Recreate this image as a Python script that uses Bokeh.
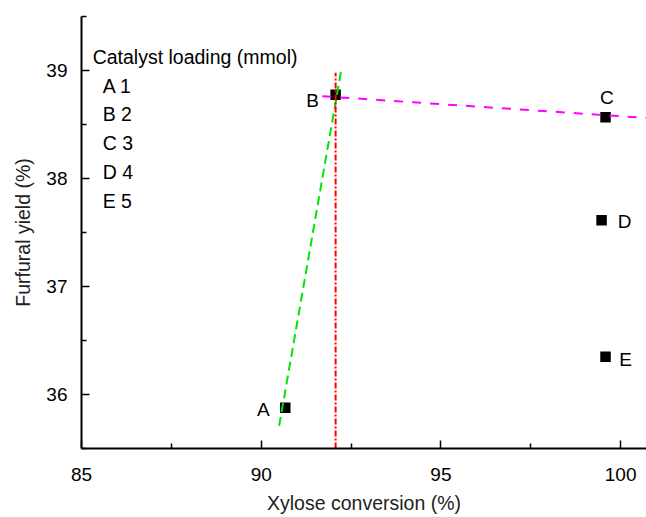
from bokeh.plotting import figure
from bokeh.models import FixedTicker, ColumnDataSource, Range1d
from bokeh.core.properties import value
from bokeh.embed import file_html
from bokeh.resources import INLINE

# ---- data ----
labels = ["A", "B", "C", "D", "E"]
loading = [1, 2, 3, 4, 5]
conversion = [90.67, 92.07, 99.58, 99.47, 99.58]
yield_ = [35.877, 38.775, 38.568, 37.613, 36.35]

green_x = [90.50, 92.24]
green_y = [35.71, 39.03]
magenta_x = [91.70, 100.75]
magenta_y = [38.762, 38.56]
red_x = [92.07, 92.07]
red_y = [35.5, 38.98]

x_ticks = [85, 90, 95, 100]
x_minor = [87.5, 92.5, 97.5]
y_ticks = [36, 37, 38, 39]
y_minor = [35.5, 36.5, 37.5, 38.5, 39.5]

legend_title = "Catalyst loading (mmol)"

FONT = "Liberation Sans"

p = figure(width=646, height=517,
           x_range=Range1d(85, 100.72), y_range=Range1d(35.5, 39.5),
           output_backend="svg", toolbar_location=None,
           min_border_left=81, min_border_right=0, min_border_top=16,
           min_border_bottom=69)
p.xgrid.visible = False
p.ygrid.visible = False
p.outline_line_color = None
p.background_fill_color = "white"

for ax in (p.xaxis[0], p.yaxis[0]):
    ax.axis_line_width = 2
    ax.axis_line_color = "black"
    ax.major_tick_in = 8
    ax.major_tick_out = 0
    ax.minor_tick_in = 5
    ax.minor_tick_out = 0
    ax.major_tick_line_width = 1.5
    ax.minor_tick_line_width = 1.5
    ax.major_tick_line_color = "black"
    ax.minor_tick_line_color = "black"
    ax.major_label_text_font = FONT
    ax.major_label_text_font_size = "19px"
    ax.major_label_text_color = "black"
    ax.axis_label_text_font = FONT
    ax.axis_label_text_font_size = "19.5px"
    ax.axis_label_text_font_style = "normal"
    ax.axis_label_text_color = "#222222"

p.xaxis.ticker = FixedTicker(ticks=x_ticks, minor_ticks=x_minor)
p.yaxis.ticker = FixedTicker(ticks=y_ticks, minor_ticks=y_minor)
p.xaxis.axis_label = "Xylose conversion (%)"
p.yaxis.axis_label = "Furfural yield (%)"
p.xaxis.major_label_standoff = 19
p.yaxis.major_label_standoff = 14
p.xaxis.axis_label_standoff = 8
p.yaxis.axis_label_standoff = 9

# points
src = ColumnDataSource(dict(x=conversion, y=yield_, lab=labels,
                            dx=[-22, -23, 1.3, 23, 20],
                            dy=[1.7, 5.7, -19.4, 0.9, 2.5]))
p.scatter("x", "y", source=src, marker="square", size=10.5,
          fill_color="black", line_color=None)

# lines on top of squares
p.line(green_x, green_y, line_color="#00e600", line_width=2, line_dash="9 5")
p.line(magenta_x, magenta_y, line_color="#ff00ff", line_width=2, line_dash="9 9")
p.line(red_x, red_y, line_color="#ff0000", line_width=2, line_dash="6 2 2 2")

# point labels
p.text("x", "y", text="lab", source=src, x_offset="dx", y_offset="dy",
       text_align="center", text_baseline="middle",
       text_font=value(FONT), text_font_size="19px", text_color="black")

# legend-like text block
leg_lines = [legend_title] + [f"{l} {n}" for l, n in zip(labels, loading)]
leg_src = ColumnDataSource(dict(
    x=[85.31] * len(leg_lines), y=[39.125] * len(leg_lines), t=leg_lines,
    xo=[0] + [10] * len(labels),
    yo=[i * 28.7 for i in range(len(leg_lines))]))
p.text("x", "y", text="t", source=leg_src, x_offset="xo", y_offset="yo",
       text_align="left", text_baseline="middle",
       text_font=value(FONT), text_font_size="19.5px", text_color="black")

open("out.html", "w").write(file_html(p, INLINE))
